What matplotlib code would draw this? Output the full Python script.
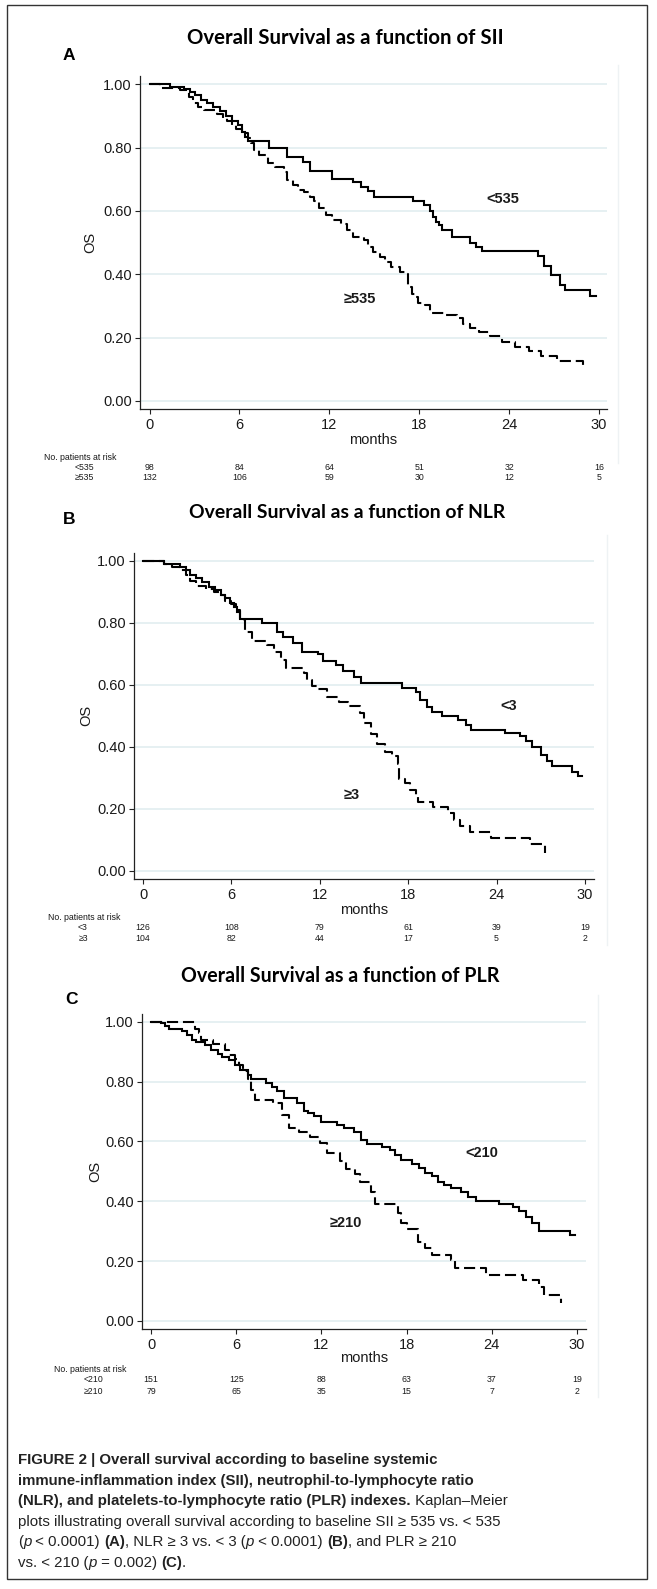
import matplotlib
matplotlib.use("Agg")
import matplotlib.pyplot as plt
from matplotlib import transforms
from matplotlib.patches import Rectangle
from matplotlib.lines import Line2D

# ---------------- data ----------------
XTICKS = [0, 6, 12, 18, 24, 30]
YTICKS = [0.0, 0.2, 0.4, 0.6, 0.8, 1.0]

titles = ["Overall Survival as a function of SII",
          "Overall Survival as a function of NLR",
          "Overall Survival as a function of PLR"]
panel_letters = ["A", "B", "C"]
group_low = ["<535", "<3", "<210"]
group_high = ["\u2265535", "\u22653", "\u2265210"]

# Panel A: SII
A_low_t = [0, 1.35, 2.3, 2.7, 3.0, 3.4, 3.8, 4.2, 4.7, 5.1, 5.5, 5.9, 6.2, 6.4, 6.6, 8.0, 9.2, 10.25,
           10.7, 12.2, 13.6, 14.1, 14.6, 15.0, 17.6, 18.3, 18.7, 18.9, 19.1, 19.3, 19.5, 20.2, 21.4,
           21.8, 22.2, 25.9, 26.3, 26.8, 27.4, 27.7, 29.4, 29.8]
A_low_s = [1.0, 0.99, 0.985, 0.975, 0.966, 0.95, 0.94, 0.929, 0.915, 0.90, 0.885, 0.87, 0.85, 0.835,
           0.82, 0.80, 0.77, 0.755, 0.725, 0.70, 0.69, 0.677, 0.663, 0.645, 0.632, 0.62, 0.60, 0.58,
           0.565, 0.555, 0.54, 0.517, 0.50, 0.487, 0.473, 0.457, 0.426, 0.398, 0.366, 0.35, 0.332, 0.332]
A_high_t = [0, 0.7, 2.0, 2.6, 2.9, 3.2, 3.6, 4.5, 4.9, 5.2, 5.5, 5.8, 6.2, 6.6, 6.8, 7.0, 7.3, 7.9,
            8.4, 9.0, 9.2, 9.6, 9.9, 10.3, 10.7, 11.0, 11.3, 11.8, 12.2, 12.8, 13.2, 13.6, 14.3, 14.6,
            14.9, 15.4, 15.7, 16.1, 16.7, 17.2, 17.25, 17.5, 17.7, 17.9, 18.4, 18.7, 19.7, 20.5, 20.9,
            21.4, 22.0, 22.7, 23.5, 24.4, 25.3, 26.1, 27.2, 28.9]
A_high_s = [1.0, 0.987, 0.983, 0.96, 0.94, 0.928, 0.918, 0.905, 0.895, 0.885, 0.87, 0.86, 0.845, 0.83,
            0.814, 0.792, 0.778, 0.75, 0.74, 0.724, 0.698, 0.682, 0.666, 0.66, 0.645, 0.63, 0.609,
            0.587, 0.571, 0.56, 0.54, 0.518, 0.508, 0.487, 0.471, 0.455, 0.44, 0.422, 0.408, 0.40,
            0.36, 0.339, 0.329, 0.31, 0.303, 0.279, 0.27, 0.261, 0.242, 0.23, 0.219, 0.205, 0.187,
            0.172, 0.159, 0.143, 0.125, 0.105]

# Panel B: NLR
B_low_t = [0, 1.4, 2.5, 2.9, 3.2, 3.6, 4.0, 4.5, 4.9, 5.3, 5.6, 5.9, 6.2, 6.4, 6.6, 8.1, 9.1, 9.5,
           10.2, 10.8, 11.9, 12.2, 13.1, 13.6, 14.3, 14.8, 17.6, 18.5, 18.8, 19.3, 19.6, 20.3, 21.4,
           21.9, 22.3, 24.6, 25.6, 26.0, 26.4, 27.0, 27.4, 27.8, 29.1, 29.5, 29.8]
B_low_s = [1.0, 0.99, 0.98, 0.97, 0.955, 0.945, 0.93, 0.915, 0.905, 0.89, 0.88, 0.865, 0.85, 0.835,
           0.811, 0.798, 0.771, 0.755, 0.734, 0.707, 0.70, 0.678, 0.665, 0.643, 0.626, 0.605, 0.589,
           0.578, 0.55, 0.53, 0.514, 0.498, 0.487, 0.471, 0.455, 0.444, 0.436, 0.42, 0.40, 0.375,
           0.353, 0.337, 0.32, 0.306, 0.306]
B_high_t = [0, 1.4, 2.0, 2.5, 2.9, 3.2, 3.6, 4.3, 4.8, 5.2, 5.6, 6.0, 6.3, 6.6, 6.9, 7.4, 8.4, 8.9,
            9.4, 9.7, 10.9, 11.1, 11.5, 11.9, 12.5, 13.3, 13.9, 14.7, 15.0, 15.5, 15.9, 16.4, 16.9,
            17.3, 17.35, 17.4, 17.8, 18.1, 18.5, 18.7, 19.7, 20.7, 21.1, 21.5, 22.2, 23.6, 26.3, 27.3]
B_high_s = [1.0, 0.99, 0.98, 0.97, 0.955, 0.935, 0.92, 0.91, 0.90, 0.89, 0.87, 0.86, 0.84, 0.81,
            0.77, 0.74, 0.728, 0.707, 0.68, 0.654, 0.637, 0.615, 0.596, 0.585, 0.561, 0.546, 0.532,
            0.509, 0.477, 0.44, 0.41, 0.385, 0.369, 0.345, 0.315, 0.298, 0.284, 0.26, 0.24, 0.223,
            0.207, 0.186, 0.165, 0.145, 0.127, 0.105, 0.087, 0.057]

# Panel C: PLR
C_low_t = [0, 0.7, 1.0, 1.3, 2.2, 2.5, 2.9, 3.2, 3.8, 4.2, 4.7, 5.0, 5.5, 5.9, 6.3, 6.8, 7.07, 8.1,
           8.5, 8.9, 9.4, 10.3, 10.8, 11.05, 11.5, 12.0, 13.1, 13.6, 14.3, 14.8, 15.2, 16.3, 16.8,
           17.2, 17.6, 18.4, 18.9, 19.3, 19.8, 20.2, 20.6, 21.1, 21.8, 22.3, 22.9, 24.5, 25.5, 25.95,
           26.4, 26.85, 27.3, 29.5, 29.85]
C_low_s = [1.0, 0.994, 0.985, 0.977, 0.97, 0.955, 0.939, 0.933, 0.922, 0.905, 0.892, 0.881, 0.872,
           0.855, 0.838, 0.822, 0.808, 0.794, 0.783, 0.767, 0.744, 0.727, 0.70, 0.694, 0.686, 0.664,
           0.656, 0.645, 0.63, 0.605, 0.591, 0.582, 0.571, 0.555, 0.538, 0.524, 0.51, 0.494, 0.483,
           0.466, 0.455, 0.443, 0.432, 0.415, 0.402, 0.391, 0.38, 0.369, 0.346, 0.326, 0.302, 0.287,
           0.287]
C_high_t = [0, 3.1, 3.4, 3.55, 4.4, 5.2, 5.5, 5.9, 6.2, 6.5, 6.8, 7.07, 7.3, 8.6, 9.2, 9.7, 10.4,
            11.2, 11.9, 12.4, 13.3, 13.7, 14.4, 14.7, 15.5, 15.8, 17.4, 17.6, 18.0, 18.8, 19.3, 19.8,
            21.1, 21.4, 23.6, 26.2, 27.3, 27.7, 28.9]
C_high_s = [1.0, 0.977, 0.961, 0.94, 0.927, 0.905, 0.89, 0.875, 0.855, 0.835, 0.81, 0.772, 0.738,
            0.727, 0.688, 0.646, 0.632, 0.616, 0.594, 0.561, 0.533, 0.508, 0.492, 0.466, 0.43, 0.39,
            0.36, 0.328, 0.309, 0.265, 0.243, 0.221, 0.204, 0.176, 0.154, 0.137, 0.115, 0.087, 0.059]

# numbers at risk
A_risk_low = [98, 84, 64, 51, 32, 16]
A_risk_high = [132, 106, 59, 30, 12, 5]
B_risk_low = [126, 108, 79, 61, 39, 19]
B_risk_high = [104, 82, 44, 17, 5, 2]
C_risk_low = [151, 125, 88, 63, 37, 19]
C_risk_high = [79, 65, 35, 15, 7, 2]

# curve label positions (months, survival)
A_lab_low, A_lab_high = (23.6, 0.638), (14.05, 0.322)
B_lab_low, B_lab_high = (24.8, 0.532), (14.15, 0.245)
C_lab_low, C_lab_high = (23.3, 0.561), (13.7, 0.327)

# ---------------- layout ----------------
W, H = 657, 1589
plt.rcParams['font.family'] = ['Liberation Sans', 'DejaVu Sans']
plt.rcParams['lines.scale_dashes'] = False
fig = plt.figure(figsize=(W / 100, H / 100), dpi=100)
fig.patch.set_facecolor("white")
renderer = fig.canvas.get_renderer()


def fx(p):
    return p / W


def fy(p):
    return 1 - p / H


def fit_width(t, target):
    w = t.get_window_extent(renderer).width
    t.set_fontsize(t.get_fontsize() * target / w)


GRID = "#e2edf0"
TXT = "#1a1a1a"

layout = [
    dict(left=140, right=607, top=76, bottom=409, x0=149.6, xs=14.98, y1=84.3, y0=401,
         title=(345.5, 38), letter=(69, 56), os_x=90, months_y=440, risk_y=(457, 467, 478),
         risk_lx=44, row_rx=94, edge=(618, 65, 463)),
    dict(left=134, right=594, top=552.6, bottom=879, x0=143, xs=14.73, y1=560.7, y0=871,
         title=(347, 512), letter=(69, 520), os_x=86, months_y=910, risk_y=(917, 927, 939),
         risk_lx=48, row_rx=88, edge=(607, 535, 945)),
    dict(left=142, right=586, top=1013.6, bottom=1329, x0=151, xs=14.2, y1=1021.7, y0=1321,
         title=(340, 976), letter=(71, 1000), os_x=95.5, months_y=1358, risk_y=(1369, 1379, 1391),
         risk_lx=54, row_rx=103, edge=(598, 995, 1397)),
]

curves = [((A_low_t, A_low_s), (A_high_t, A_high_s)),
          ((B_low_t, B_low_s), (B_high_t, B_high_s)),
          ((C_low_t, C_low_s), (C_high_t, C_high_s))]
risks = [(A_risk_low, A_risk_high), (B_risk_low, B_risk_high), (C_risk_low, C_risk_high)]
labpos = [(A_lab_low, A_lab_high), (B_lab_low, B_lab_high), (C_lab_low, C_lab_high)]

for i, L in enumerate(layout):
    ax = fig.add_axes([fx(L['left']), fy(L['bottom']), fx(L['right'] - L['left']),
                       (L['bottom'] - L['top']) / H])
    ax.set_xlim((L['left'] - L['x0']) / L['xs'], (L['right'] - L['x0']) / L['xs'])
    span = L['y0'] - L['y1']
    ax.set_ylim((L['y0'] - L['bottom']) / span, (L['y0'] - L['top']) / span)
    ax.set_facecolor("white")
    for yv in YTICKS:
        ax.axhline(yv, color=GRID, lw=1.2, zorder=0)
    (tl, sl), (th, sh) = curves[i]
    ax.step(tl, sl, where='post', color='black', lw=1.5, zorder=3, solid_joinstyle='miter')
    ax.step(th, sh, where='post', color='black', lw=1.5, zorder=3,
            linestyle=(0, (8, 3.5)))
    for sp in ['top', 'right']:
        ax.spines[sp].set_visible(False)
    for sp in ['left', 'bottom']:
        ax.spines[sp].set_linewidth(0.9)
        ax.spines[sp].set_color('#222222')
    ax.set_xticks(XTICKS)
    ax.set_xticklabels([str(v) for v in XTICKS])
    ax.set_yticks(YTICKS)
    ax.set_yticklabels([f"{v:.2f}" for v in YTICKS])
    ax.tick_params(axis='both', length=3.6, width=0.8, color='#222222', labelcolor=TXT,
                   labelsize=10.5)
    ax.tick_params(axis='y', pad=2.3)
    ax.tick_params(axis='x', pad=3.0)

    (lx, ly), (hx, hy) = labpos[i]
    ax.text(lx, ly, group_low[i], ha='center', va='center', fontsize=10.5,
            fontweight='bold', color=TXT)
    ax.text(hx, hy, group_high[i], ha='center', va='center', fontsize=10.5,
            fontweight='bold', color=TXT)

    # title and panel letter
    t = fig.text(fx(L['title'][0]), fy(L['title'][1]), titles[i], ha='center', va='center',
                 fontsize=14, fontweight='bold', family=['Lato', 'DejaVu Sans'], color='black')
    fit_width(t, 319)
    fig.text(fx(L['letter'][0]), fy(L['letter'][1]), panel_letters[i], ha='center',
             va='center', fontsize=12.5, fontweight='bold', color='black')

    # axis titles
    fig.text(fx(L['os_x']), fy((L['y0'] + L['y1']) / 2), "OS", rotation=90, ha='center',
             va='center', fontsize=10.5, color=TXT)
    fig.text(fx((L['left'] + L['right']) / 2), fy(L['months_y']), "months", ha='center',
             va='center', fontsize=10.5, color=TXT)

    # at-risk table
    tr = transforms.blended_transform_factory(ax.transData, fig.transFigure)
    ry = L['risk_y']
    t = fig.text(fx(L['risk_lx']), fy(ry[0]), "No. patients at risk", ha='left', va='center',
                 fontsize=6.4, color=TXT)
    fit_width(t, 74)
    fs = t.get_fontsize()
    for row, (lab, vals) in enumerate(zip([group_low[i], group_high[i]], risks[i])):
        fig.text(fx(L['row_rx']), fy(ry[row + 1]), lab, ha='right', va='center',
                 fontsize=fs, color=TXT)
        for xv, v in zip(XTICKS, vals):
            ax.text(xv, fy(ry[row + 1]), str(v), transform=tr, ha='center', va='center',
                    fontsize=fs, color=TXT, clip_on=False)

    # faint graph-region edge
    ex, ey0, ey1 = L['edge']
    fig.add_artist(Line2D([fx(ex), fx(ex)], [fy(ey0), fy(ey1)], color='#eef2f4', lw=1.0))

# figure border
fig.add_artist(Rectangle((fx(7), fy(1579)), fx(640), (1579 - 5) / H, fill=False,
                         edgecolor='#333333', lw=1.0, transform=fig.transFigure))

# ---------------- caption ----------------
CAP_FS = 10.8
cap_lines = [
    [("FIGURE 2 | Overall survival according to baseline systemic", 'bold', 'normal')],
    [("immune-inflammation index (SII), neutrophil-to-lymphocyte ratio", 'bold', 'normal')],
    [("(NLR), and platelets-to-lymphocyte ratio (PLR) indexes.", 'bold', 'normal'),
     (" Kaplan\u2013Meier", 'normal', 'normal')],
    [("plots illustrating overall survival according to baseline SII \u2265 535 vs. < 535",
      'normal', 'normal')],
    [("(", 'normal', 'normal'), ("p", 'normal', 'italic'), (" < 0.0001) ", 'normal', 'normal'),
     ("(A)", 'bold', 'normal'), (", NLR \u2265 3 vs. < 3 (", 'normal', 'normal'),
     ("p", 'normal', 'italic'), (" < 0.0001) ", 'normal', 'normal'), ("(B)", 'bold', 'normal'),
     (", and PLR \u2265 210", 'normal', 'normal')],
    [("vs. < 210 (", 'normal', 'normal'), ("p", 'normal', 'italic'),
     (" = 0.002) ", 'normal', 'normal'), ("(C)", 'bold', 'normal'), (".", 'normal', 'normal')],
]
cap_y = [1460, 1481, 1501, 1522, 1542, 1563]
for runs, yy in zip(cap_lines, cap_y):
    x = 18
    for txt, wgt, sty in runs:
        t = fig.text(fx(x), fy(yy), txt, ha='left', va='center', fontsize=CAP_FS,
                     fontweight=wgt, fontstyle=sty, color='#222222')
        x += t.get_window_extent(renderer).width

fig.savefig("out.png", dpi=100, facecolor='white')
